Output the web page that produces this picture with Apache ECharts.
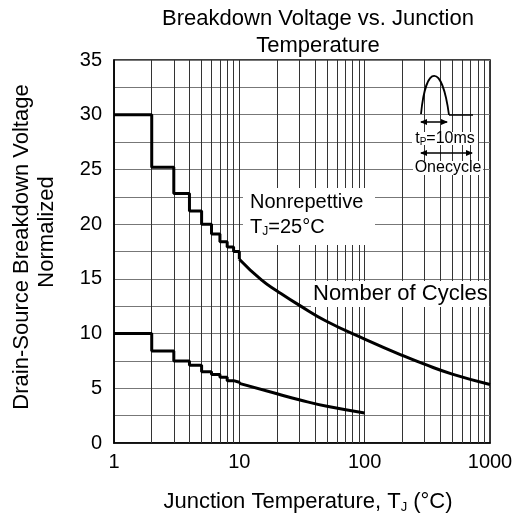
<!DOCTYPE html>
<html>
<head>
<meta charset="utf-8">
<script src="https://cdn.jsdelivr.net/npm/echarts@6/dist/echarts.min.js"></script>
<style>
  html, body { margin: 0; padding: 0; background: #fff; }
  #main { width: 516px; height: 521px; }
</style>
</head>
<body>
<div id="main"></div>
<script>
// step part (1..10 cycles), value held until next x
var stepX = [1, 2, 3, 4, 5, 6, 7, 8, 9, 10];
var upperStepY = [30, 25.2, 22.8, 21.2, 20.0, 19.1, 18.4, 17.9, 17.5];
var lowerStepY = [10, 8.4, 7.5, 7.1, 6.5, 6.25, 6.0, 5.7, 5.55];

// smooth part
var upperCurveX = [10, 15, 20, 30, 50, 100, 200, 300, 500, 1000];
var upperCurveY = [16.8, 14.9, 13.9, 12.6, 11.1, 9.5, 8.0, 7.2, 6.3, 5.35];
var lowerCurveX = [10, 20, 30, 50, 100];
var lowerCurveY = [5.45, 4.5, 3.95, 3.35, 2.75];

// axis
var xLabels = ["1", "10", "100", "1000"];
var yLabels = [0, 5, 10, 15, 20, 25, 30, 35];
var minorX = [2, 3, 4, 5, 6, 7, 8, 9, 20, 30, 40, 50, 60, 70, 80, 90,
              200, 300, 400, 500, 600, 700, 800, 900];

var FONT = "Liberation Sans";

function pairs(xs, ys) {
  return ys.map(function (y, i) { return [xs[i], y]; });
}

var upperStep = pairs(stepX, upperStepY);
upperStep.push([10, upperCurveY[0]]);
var lowerStep = pairs(stepX, lowerStepY);
lowerStep.push([10, lowerCurveY[0]]);

var myChart = echarts.init(document.getElementById("main"));

var lineStyle = { color: "#000", width: 3 };

var option = {
  animation: false,
  grid: {
    left: 114, right: 26, top: 60, bottom: 78,
    show: true, borderColor: "#000", borderWidth: 1.5, backgroundColor: "#fff"
  },
  xAxis: {
    type: "log", logBase: 10, min: 1, max: 1000,
    axisLine: { show: true, lineStyle: { color: "#000", width: 1.5 } },
    axisTick: { show: false },
    axisLabel: {
      color: "#000", fontFamily: FONT, fontSize: 20, margin: 9,
      formatter: function (v) {
        var s = String(Math.round(v));
        return xLabels.indexOf(s) >= 0 ? s : "";
      }
    },
    splitLine: { show: true, lineStyle: { color: "#333", width: 1 } }
  },
  yAxis: {
    type: "value", min: 0, max: 35, interval: 2.5,
    axisLine: { show: true, lineStyle: { color: "#000", width: 1.5 } },
    axisTick: { show: false },
    axisLabel: {
      color: "#000", fontFamily: FONT, fontSize: 20, margin: 12,
      formatter: function (v) {
        return yLabels.indexOf(v) >= 0 ? String(v) : "";
      }
    },
    splitLine: { show: true, lineStyle: { color: "#777", width: 1 } }
  },
  series: [
    {
      type: "line", data: [], silent: true,
      markLine: {
        silent: true, symbol: "none", label: { show: false },
        lineStyle: { color: "#333", width: 1, type: "solid" },
        data: minorX.map(function (x) { return { xAxis: x }; })
      }
    },
    {
      name: "upper step", type: "line", step: "end", showSymbol: false,
      data: upperStep, lineStyle: lineStyle, z: 5
    },
    {
      name: "upper", type: "line", smooth: 0.5, showSymbol: false,
      data: pairs(upperCurveX, upperCurveY), lineStyle: lineStyle, z: 5
    },
    {
      name: "lower step", type: "line", step: "end", showSymbol: false,
      data: lowerStep, lineStyle: lineStyle, z: 5
    },
    {
      name: "lower", type: "line", smooth: 0.5, showSymbol: false,
      data: pairs(lowerCurveX, lowerCurveY), lineStyle: lineStyle, z: 5
    }
  ],
  graphic: [
    // title
    {
      type: "text", x: 318, y: 5, z: 100,
      style: {
        text: "Breakdown Voltage vs. Junction\nTemperature",
        font: "22px " + FONT, fill: "#000", textAlign: "center", lineHeight: 27
      }
    },
    // y axis name
    {
      type: "text", x: 22, y: 247, rotation: Math.PI / 2, z: 100,
      style: {
        text: "Drain-Source Breakdown Voltage",
        font: "22px " + FONT, fill: "#000", textAlign: "center", textVerticalAlign: "middle"
      }
    },
    {
      type: "text", x: 47, y: 232, rotation: Math.PI / 2, z: 100,
      style: {
        text: "Normalized",
        font: "22px " + FONT, fill: "#000", textAlign: "center", textVerticalAlign: "middle"
      }
    },
    // x axis name
    {
      type: "text", x: 308, y: 502, z: 100,
      style: {
        text: "Junction Temperature, T{s|J} (°C)",
        font: "22px " + FONT, fill: "#000", textAlign: "center", textVerticalAlign: "middle",
        rich: { s: { fontSize: 13, fontFamily: FONT, padding: [11, 0, 0, 0] } }
      }
    },
    // annotation box
    {
      type: "rect", z: 99,
      shape: { x: 243, y: 188, width: 132, height: 57 },
      style: { fill: "#fff" }
    },
    {
      type: "text", x: 250, y: 202, z: 100,
      style: {
        text: "Nonrepettive", font: "20px " + FONT, fill: "#000",
        textVerticalAlign: "middle"
      }
    },
    {
      type: "text", x: 250, y: 227, z: 100,
      style: {
        text: "T{s|J}=25°C", font: "20px " + FONT, fill: "#000",
        textVerticalAlign: "middle",
        rich: { s: { fontSize: 12, fontFamily: FONT, padding: [10, 0, 0, 0] } }
      }
    },
    {
      type: "rect", z: 99,
      shape: { x: 311, y: 281, width: 178, height: 26 },
      style: { fill: "#fff" }
    },
    {
      type: "text", x: 313, y: 294, z: 100,
      style: {
        text: "Nomber of Cycles", font: "22px " + FONT, fill: "#000",
        textVerticalAlign: "middle"
      }
    },
    // inset: single pulse
    {
      type: "bezierCurve", z: 100,
      shape: { x1: 421, y1: 114, cpx1: 426, cpy1: 63, cpx2: 442, cpy2: 63, x2: 449, y2: 115 },
      style: { stroke: "#000", lineWidth: 1.8, fill: null }
    },
    {
      type: "line", z: 100,
      shape: { x1: 449, y1: 115, x2: 473, y2: 115 },
      style: { stroke: "#000", lineWidth: 1.5 }
    },
    {
      type: "rect", z: 99,
      shape: { x: 412, y: 132, width: 66, height: 13 },
      style: { fill: "#fff" }
    },
    {
      type: "text", x: 445, y: 139, z: 100,
      style: {
        text: "t{s|P}=10ms", font: "16px " + FONT, fill: "#000",
        textAlign: "center", textVerticalAlign: "middle",
        rich: { s: { fontSize: 10, fontFamily: FONT, padding: [6, 0, 0, 0] } }
      }
    },
    {
      type: "rect", z: 99,
      shape: { x: 413, y: 161, width: 70, height: 14 },
      style: { fill: "#fff" }
    },
    {
      type: "text", x: 448, y: 168, z: 100,
      style: {
        text: "Onecycle", font: "16px " + FONT, fill: "#000",
        textAlign: "center", textVerticalAlign: "middle"
      }
    },
    // arrows
    {
      type: "line", z: 100,
      shape: { x1: 421, y1: 122, x2: 447, y2: 122 },
      style: { stroke: "#000", lineWidth: 1.5 }
    },
    {
      type: "polygon", z: 100,
      shape: { points: [[420, 122], [427, 119], [427, 125]] },
      style: { fill: "#000" }
    },
    {
      type: "polygon", z: 100,
      shape: { points: [[448, 122], [441, 119], [441, 125]] },
      style: { fill: "#000" }
    },
    {
      type: "line", z: 100,
      shape: { x1: 421, y1: 153, x2: 472, y2: 153 },
      style: { stroke: "#000", lineWidth: 1.5 }
    },
    {
      type: "polygon", z: 100,
      shape: { points: [[420, 153], [427, 150], [427, 156]] },
      style: { fill: "#000" }
    },
    {
      type: "polygon", z: 100,
      shape: { points: [[473, 153], [466, 150], [466, 156]] },
      style: { fill: "#000" }
    }
  ]
};

myChart.setOption(option);
</script>
</body>
</html>
